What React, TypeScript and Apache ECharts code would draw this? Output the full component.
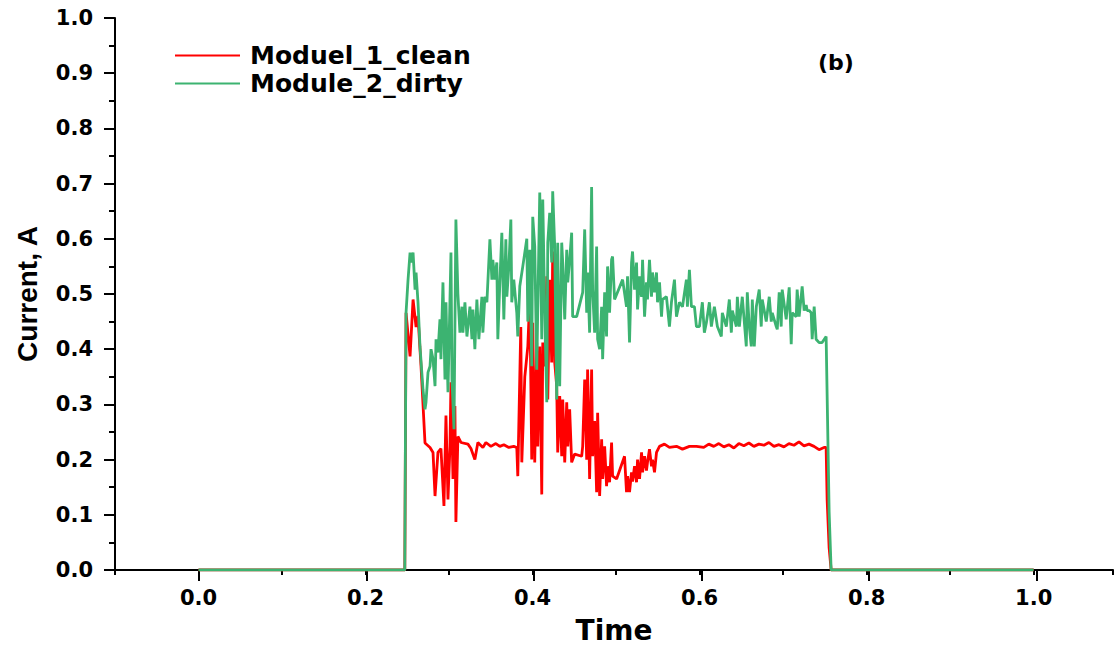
import { useEffect, useRef } from "react";
import * as echarts from "echarts";

const seriesNames = ["Moduel_1_clean", "Module_2_dirty"];
const seriesColors = ["#ff0000", "#3cb371"];

// [time, current]
const cleanPoints: [number, number][] = [
    [0, 0], [0.247, 0], [0.2485, 0.466], [0.2533, 0.387], [0.2569, 0.49], [0.2605, 0.44],
    [0.2628, 0.46], [0.2664, 0.37], [0.2712, 0.23], [0.2772, 0.222], [0.2808, 0.213],
    [0.2832, 0.134], [0.2867, 0.213], [0.2903, 0.22], [0.2939, 0.116], [0.2963, 0.28],
    [0.2987, 0.128], [0.3011, 0.224], [0.3023, 0.34], [0.3047, 0.165], [0.307, 0.297],
    [0.3082, 0.087], [0.3106, 0.242], [0.3142, 0.231], [0.3226, 0.228], [0.3262, 0.22],
    [0.3309, 0.2], [0.3345, 0.231], [0.3405, 0.222], [0.3441, 0.231], [0.3501, 0.224],
    [0.356, 0.229], [0.3608, 0.224], [0.3656, 0.227], [0.3716, 0.222], [0.3775, 0.224],
    [0.3811, 0.222], [0.3823, 0.17], [0.3859, 0.44], [0.3871, 0.195], [0.3907, 0.35],
    [0.3943, 0.405], [0.3967, 0.495], [0.399, 0.2], [0.4002, 0.448], [0.4026, 0.195],
    [0.405, 0.412], [0.4062, 0.224], [0.4086, 0.405], [0.411, 0.137], [0.4122, 0.412],
    [0.4146, 0.369], [0.417, 0.532], [0.4182, 0.309], [0.4205, 0.526], [0.4229, 0.376],
    [0.4241, 0.577], [0.4265, 0.376], [0.4289, 0.333], [0.4301, 0.213], [0.4325, 0.315],
    [0.4349, 0.206], [0.4361, 0.309], [0.4385, 0.195], [0.4409, 0.304], [0.4421, 0.224],
    [0.4444, 0.291], [0.4468, 0.195], [0.4504, 0.21], [0.4588, 0.206], [0.46, 0.224],
    [0.4624, 0.345], [0.4648, 0.2], [0.4659, 0.363], [0.4683, 0.165], [0.4707, 0.363],
    [0.4719, 0.206], [0.4743, 0.27], [0.4767, 0.141], [0.4779, 0.285], [0.4803, 0.134],
    [0.4827, 0.237], [0.4839, 0.165], [0.4863, 0.224], [0.4886, 0.152], [0.4898, 0.188],
    [0.4922, 0.159], [0.4946, 0.231], [0.4958, 0.17], [0.5006, 0.165], [0.5101, 0.206],
    [0.5125, 0.141], [0.5137, 0.17], [0.5161, 0.141], [0.5185, 0.177], [0.5197, 0.16],
    [0.5221, 0.188], [0.5245, 0.159], [0.5257, 0.2], [0.5281, 0.165], [0.5305, 0.213],
    [0.5317, 0.177], [0.5341, 0.206], [0.5364, 0.18], [0.5376, 0.195], [0.54, 0.219],
    [0.5424, 0.188], [0.5436, 0.2], [0.546, 0.177], [0.5484, 0.213], [0.552, 0.224],
    [0.5579, 0.228], [0.5639, 0.222], [0.5723, 0.224], [0.5795, 0.219], [0.5878, 0.224],
    [0.5962, 0.224], [0.605, 0.222], [0.611, 0.228], [0.617, 0.224], [0.623, 0.229],
    [0.629, 0.223], [0.635, 0.227], [0.641, 0.221], [0.647, 0.229], [0.653, 0.225],
    [0.659, 0.23], [0.665, 0.224], [0.671, 0.228], [0.677, 0.226], [0.683, 0.231],
    [0.689, 0.224], [0.695, 0.227], [0.701, 0.223], [0.707, 0.229], [0.713, 0.226],
    [0.719, 0.232], [0.725, 0.225], [0.731, 0.228], [0.737, 0.224], [0.743, 0.218],
    [0.749, 0.222], [0.7515, 0.222], [0.7527, 0.128], [0.7551, 0.04], [0.7575, 0], [1.0, 0],
];

const dirtyPoints: [number, number][] = [
    [0, 0], [0.247, 0], [0.2485, 0.466], [0.2509, 0.526], [0.2533, 0.575], [0.2545, 0.557],
    [0.2569, 0.575], [0.2593, 0.508], [0.2605, 0.539], [0.2628, 0.485], [0.2652, 0.405],
    [0.2688, 0.327], [0.2712, 0.291], [0.2724, 0.304], [0.2748, 0.358], [0.2772, 0.369],
    [0.2784, 0.4], [0.2808, 0.382], [0.2832, 0.333], [0.2844, 0.418], [0.2867, 0.394],
    [0.2891, 0.454], [0.2903, 0.382], [0.2927, 0.521], [0.2951, 0.345], [0.2963, 0.485],
    [0.2987, 0.322], [0.3011, 0.49], [0.3023, 0.575], [0.3035, 0.345], [0.3059, 0.255],
    [0.3082, 0.635], [0.3106, 0.5], [0.313, 0.43], [0.3154, 0.477], [0.3166, 0.43],
    [0.319, 0.485], [0.3214, 0.423], [0.325, 0.477], [0.3274, 0.418], [0.3286, 0.472],
    [0.3309, 0.4], [0.3333, 0.49], [0.3357, 0.418], [0.3393, 0.495], [0.3405, 0.43],
    [0.3429, 0.495], [0.3453, 0.485], [0.3489, 0.599], [0.3513, 0.526], [0.3524, 0.562],
    [0.3548, 0.526], [0.3572, 0.557], [0.3584, 0.418], [0.3608, 0.521], [0.3632, 0.611],
    [0.3656, 0.454], [0.368, 0.599], [0.3692, 0.495], [0.3716, 0.55], [0.374, 0.635],
    [0.3751, 0.485], [0.3775, 0.526], [0.3811, 0.466], [0.3823, 0.423], [0.3847, 0.514],
    [0.3883, 0.55], [0.3931, 0.6], [0.3943, 0.45], [0.3967, 0.58], [0.399, 0.369],
    [0.4002, 0.64], [0.4026, 0.586], [0.405, 0.363], [0.4086, 0.684], [0.411, 0.418],
    [0.4122, 0.671], [0.4146, 0.466], [0.417, 0.304], [0.4182, 0.593], [0.4205, 0.647],
    [0.4229, 0.557], [0.4241, 0.686], [0.4265, 0.586], [0.4289, 0.309], [0.4301, 0.593],
    [0.4325, 0.333], [0.4349, 0.593], [0.4361, 0.557], [0.4385, 0.454], [0.4409, 0.58],
    [0.4421, 0.521], [0.4444, 0.562], [0.4468, 0.611], [0.448, 0.459], [0.4528, 0.459],
    [0.46, 0.503], [0.4624, 0.617], [0.4648, 0.466], [0.4659, 0.539], [0.4683, 0.43],
    [0.4707, 0.694], [0.4719, 0.508], [0.4743, 0.43], [0.4767, 0.586], [0.4779, 0.418],
    [0.4803, 0.4], [0.4827, 0.477], [0.4839, 0.382], [0.4863, 0.503], [0.4886, 0.423],
    [0.4898, 0.55], [0.4922, 0.466], [0.4946, 0.562], [0.4958, 0.568], [0.4982, 0.49],
    [0.5078, 0.526], [0.5125, 0.477], [0.5137, 0.532], [0.5161, 0.412], [0.5185, 0.557],
    [0.5197, 0.577], [0.5221, 0.508], [0.5245, 0.557], [0.5257, 0.472], [0.5281, 0.532],
    [0.5305, 0.495], [0.5317, 0.562], [0.5341, 0.459], [0.5364, 0.521], [0.5376, 0.49],
    [0.54, 0.562], [0.5424, 0.495], [0.5436, 0.539], [0.546, 0.503], [0.5484, 0.539],
    [0.5496, 0.485], [0.552, 0.521], [0.5544, 0.459], [0.5556, 0.49], [0.5603, 0.495],
    [0.5639, 0.441], [0.5663, 0.485], [0.5699, 0.526], [0.5723, 0.459], [0.5759, 0.485],
    [0.5795, 0.477], [0.5842, 0.526], [0.5854, 0.477], [0.5878, 0.544], [0.5902, 0.477],
    [0.5938, 0.477], [0.5962, 0.441], [0.5998, 0.441], [0.6033, 0.485], [0.6057, 0.43],
    [0.6081, 0.448], [0.6117, 0.485], [0.6141, 0.441], [0.6177, 0.477], [0.6213, 0.441],
    [0.626, 0.423], [0.6272, 0.466], [0.632, 0.441], [0.6356, 0.49], [0.638, 0.43],
    [0.6392, 0.47], [0.644, 0.441], [0.6452, 0.495], [0.6476, 0.441], [0.6511, 0.495],
    [0.6559, 0.405], [0.6571, 0.503], [0.6595, 0.441], [0.6619, 0.405], [0.6631, 0.49],
    [0.6655, 0.405], [0.6679, 0.477], [0.6714, 0.508], [0.6738, 0.441], [0.675, 0.49],
    [0.6798, 0.45], [0.6834, 0.495], [0.6858, 0.45], [0.687, 0.466], [0.6918, 0.441],
    [0.693, 0.436], [0.6953, 0.503], [0.6977, 0.441], [0.6989, 0.508], [0.7037, 0.454],
    [0.7073, 0.512], [0.7097, 0.409], [0.7109, 0.466], [0.7157, 0.459], [0.7168, 0.508],
    [0.7192, 0.459], [0.7216, 0.495], [0.7228, 0.514], [0.7252, 0.47], [0.7276, 0.48],
    [0.7288, 0.47], [0.7312, 0.47], [0.7336, 0.466], [0.7348, 0.418], [0.7372, 0.477],
    [0.7395, 0.418], [0.7431, 0.412], [0.7467, 0.412], [0.7515, 0.423], [0.7551, 0.105],
    [0.7575, 0], [1.0, 0],
];

const xLabelValues = [0, 0.2, 0.4, 0.6, 0.8, 1.0];

export default function App() {
    const chartRef = useRef<HTMLDivElement>(null);

    useEffect(() => {
        if (!chartRef.current) return;

        const chart = echarts.init(chartRef.current, undefined, { renderer: "svg" });
        const font = "DejaVu Sans";
        const black = "#000000";
        const xMin = -0.1;
        const xMax = 1.095;
        const perUnit = 1001 / (xMax - xMin); // px per 1.0 on the time axis

        const option = {
            animation: false,
            backgroundColor: "#ffffff",
            grid: [
                { left: 115, right: 0, top: 18, bottom: 78 },
                // invisible overlay for the longer ticks at labelled positions
                {
                    left: 115 - xMin * perUnit,
                    right: 1001 - (1 - xMin) * perUnit,
                    top: 18,
                    bottom: 78,
                },
            ],
            legend: {
                orient: "vertical",
                left: 175,
                top: 43,
                padding: 0,
                itemGap: 3,
                itemWidth: 65,
                itemHeight: 2,
                icon: "rect",
                textStyle: {
                    fontFamily: font,
                    fontWeight: "bold",
                    fontSize: 25,
                    color: black,
                    padding: [0, 0, 0, 5],
                },
                data: seriesNames,
            },
            graphic: [
                {
                    type: "text",
                    left: 818,
                    top: 51,
                    style: { text: "(b)", font: `bold 22px "${font}"`, fill: black },
                },
            ],
            xAxis: [
                {
                    type: "value",
                    min: xMin,
                    max: xMax,
                    interval: 0.1,
                    name: "Time",
                    nameLocation: "middle",
                    nameGap: 46,
                    nameTextStyle: { fontFamily: font, fontWeight: "bold", fontSize: 28, color: black },
                    axisLine: { onZero: false, lineStyle: { color: black, width: 2 } },
                    axisTick: { length: 5, lineStyle: { color: black, width: 2 } },
                    axisLabel: {
                        margin: 17,
                        fontFamily: font,
                        fontWeight: "bold",
                        fontSize: 21,
                        color: black,
                        formatter: (v: number) =>
                            xLabelValues.some((t) => Math.abs(t - v) < 1e-6) ? v.toFixed(1) : "",
                    },
                    splitLine: { show: false },
                },
                {
                    type: "value",
                    gridIndex: 1,
                    min: 0,
                    max: 1,
                    interval: 0.2,
                    axisLine: { show: false },
                    axisTick: { length: 10, lineStyle: { color: black, width: 2 } },
                    axisLabel: { show: false },
                    splitLine: { show: false },
                },
            ],
            yAxis: [
                {
                    type: "value",
                    min: 0,
                    max: 1,
                    interval: 0.1,
                    name: "Current, A",
                    nameLocation: "middle",
                    nameGap: 74,
                    nameTextStyle: {
                        fontFamily: "Liberation Sans",
                        fontWeight: "bold",
                        fontSize: 28,
                        color: black,
                    },
                    axisLine: { show: true, onZero: false, lineStyle: { color: black, width: 2 } },
                    axisTick: { length: 11, lineStyle: { color: black, width: 2 } },
                    minorTick: { show: true, splitNumber: 2, length: 6, lineStyle: { color: black, width: 2 } },
                    axisLabel: {
                        margin: 22,
                        fontFamily: font,
                        fontWeight: "bold",
                        fontSize: 21,
                        color: black,
                        formatter: (v: number) => v.toFixed(1),
                    },
                    splitLine: { show: false },
                },
                { type: "value", gridIndex: 1, min: 0, max: 1, show: false },
            ],
            series: [
                {
                    name: seriesNames[0],
                    type: "line",
                    data: cleanPoints,
                    symbol: "none",
                    showSymbol: false,
                    color: seriesColors[0],
                    lineStyle: { color: seriesColors[0], width: 2.8 },
                    z: 2,
                },
                {
                    name: seriesNames[1],
                    type: "line",
                    data: dirtyPoints,
                    symbol: "none",
                    showSymbol: false,
                    color: seriesColors[1],
                    lineStyle: { color: seriesColors[1], width: 2.8 },
                    z: 3,
                },
            ],
        };

        chart.setOption(option);

        return () => {
            chart.dispose();
        };
    }, []);

    return (
        <div
            ref={chartRef}
            style={{ position: "fixed", left: 0, top: 0, width: 1116, height: 649, background: "#fff" }}
        />
    );
}
